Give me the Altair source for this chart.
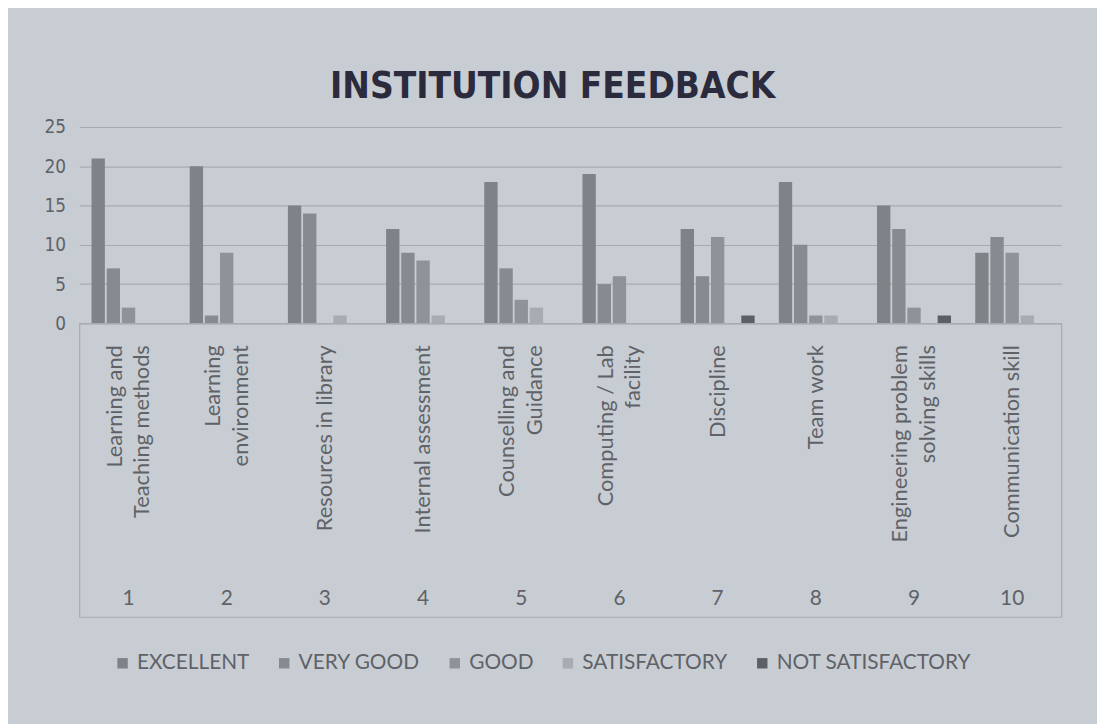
import altair as alt
import pandas as pd

numbers = ["1", "2", "3", "4", "5", "6", "7", "8", "9", "10"]
categories = [
    "Learning and|Teaching methods",
    "Learning|environment",
    "Resources in library",
    "Internal assessment",
    "Counselling and|Guidance",
    "Computing / Lab|facility",
    "Discipline",
    "Team work",
    "Engineering problem|solving skills",
    "Communication skill",
]
series = ["EXCELLENT", "VERY GOOD", "GOOD", "SATISFACTORY", "NOT SATISFACTORY"]
excellent = [21, 20, 15, 12, 18, 19, 12, 18, 15, 9]
very_good = [7, 1, 14, 9, 7, 5, 6, 10, 12, 11]
good = [2, 9, 0, 8, 3, 6, 11, 1, 2, 9]
satisfactory = [0, 0, 1, 1, 2, 0, 0, 1, 0, 1]
not_satisfactory = [0, 0, 0, 0, 0, 0, 1, 0, 1, 0]
y_ticks = [0, 5, 10, 15, 20, 25]

colors = ["#7f8287", "#878a8f", "#8f9298", "#a8acb2", "#5c5f66"]
bg = "#c8cdd3"
label_color = "#5f6267"
grid_color = "#a6abb2"

rows = []
for s, vals in zip(series, [excellent, very_good, good, satisfactory, not_satisfactory]):
    for n, v in zip(numbers, vals):
        rows.append({"num": n, "series": s, "value": v})
df = pd.DataFrame(rows)
labels_df = pd.DataFrame({"num": numbers, "name": categories})

W = 990
H_PLOT = 198
H_STRIP = 296
x_scale = alt.Scale(domain=numbers, paddingInner=0, paddingOuter=0)

bars = alt.Chart(df).mark_bar().encode(
    x=alt.X("num:N", sort=numbers, scale=x_scale, axis=None),
    xOffset=alt.XOffset("series:N", sort=series,
                        scale=alt.Scale(domain=series, paddingInner=0.12, paddingOuter=0.8)),
    y=alt.Y("value:Q", scale=alt.Scale(domain=[0, 25]),
            axis=alt.Axis(values=y_ticks, title=None, domain=False, ticks=False,
                          labelFontSize=19, labelFont="DejaVu Sans Condensed",
                          labelColor=label_color, labelPadding=14,
                          gridColor=grid_color, gridWidth=1.2)),
    color=alt.Color("series:N", sort=series,
                    scale=alt.Scale(domain=series, range=colors),
                    legend=alt.Legend(title=None, orient="none", legendX=33, legendY=530,
                                      direction="horizontal",
                                      symbolType="square", symbolSize=110,
                                      symbolStrokeWidth=0,
                                      labelFontSize=21, labelFont="Lato",
                                      labelColor=label_color, columnPadding=24,
                                      labelLimit=400)),
).properties(width=W, height=H_PLOT, view=alt.ViewBackground(stroke="transparent"))

name_style = dict(angle=270, align="right", baseline="middle", lineBreak="|",
                  fontSize=22, font="Lato", color=label_color, lineHeight=28)

names_one = alt.Chart(labels_df).transform_filter(
    "indexof(datum.name, '|') < 0"
).mark_text(**name_style).encode(
    x=alt.X("num:N", sort=numbers, scale=x_scale,
            axis=alt.Axis(grid=True, bandPosition=0, ticks=False, labels=False,
                          domain=False, title=None, gridColor=grid_color, gridWidth=1.2)),
    y=alt.value(22),
    text="name:N",
)
names_two = alt.Chart(labels_df).transform_filter(
    "indexof(datum.name, '|') >= 0"
).mark_text(dy=-14, **name_style).encode(
    x=alt.X("num:N", sort=numbers, scale=x_scale, axis=None),
    y=alt.value(22),
    text="name:N",
)
nums = alt.Chart(labels_df).mark_text(
    fontSize=21, font="Lato", color=label_color, baseline="middle",
).encode(
    x=alt.X("num:N", sort=numbers, scale=x_scale, axis=None),
    y=alt.value(H_STRIP - 18),
    text="num:N",
)
strip = alt.layer(names_one, names_two, nums).properties(
    width=W, height=H_STRIP,
    view=alt.ViewBackground(stroke=grid_color, strokeWidth=1.2),
)

chart = alt.vconcat(bars, strip, spacing=0, bounds="flush").resolve_scale(x="shared").properties(
    title=alt.TitleParams("INSTITUTION FEEDBACK", fontSize=37,
                          font="DejaVu Sans Condensed", fontWeight="bold",
                          color="#2b2b3d", anchor="middle", offset=12),
    background=bg,
    padding={"top": 57, "left": 35, "right": 35, "bottom": 50},
).configure_view(stroke="transparent")

chart.save("out.html", embed_options={"renderer": "svg", "actions": False})
